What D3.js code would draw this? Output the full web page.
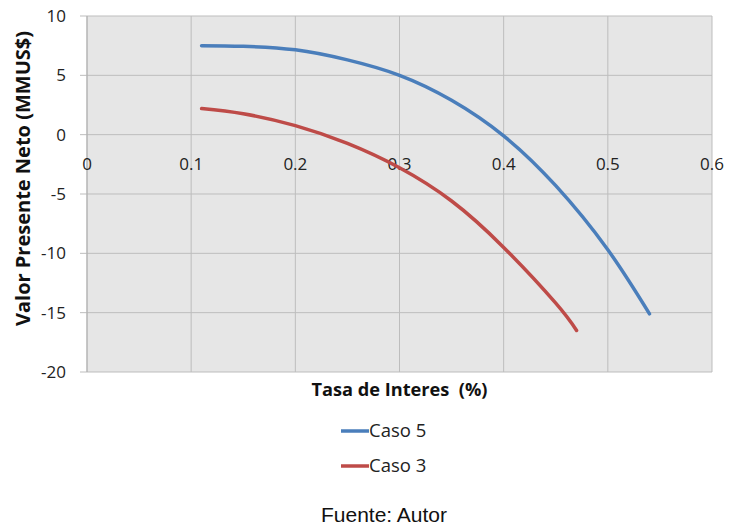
<!DOCTYPE html>
<html>
<head>
<meta charset="utf-8">
<script src="https://cdn.jsdelivr.net/npm/d3@7"></script>
<style>
  html, body { margin: 0; padding: 0; background: #ffffff; }
  svg { display: block; }
</style>
</head>
<body>
<svg id="chart" width="729" height="529"></svg>
<script>
// Interest rate (fraction) vs. net present value (MMUS$)
const caso5Rates = [0.11, 0.15, 0.20, 0.25, 0.30, 0.35, 0.40, 0.45, 0.50, 0.54];
const caso5Values = [7.5, 7.45, 7.15, 6.3, 5.0, 2.9, -0.1, -4.3, -9.7, -15.1];

const caso3Rates = [0.11, 0.15, 0.20, 0.25, 0.30, 0.35, 0.40, 0.45, 0.47];
const caso3Values = [2.2, 1.76, 0.76, -0.74, -2.79, -5.59, -9.5, -14.2, -16.5];

const xTicks = [0, 0.1, 0.2, 0.3, 0.4, 0.5, 0.6];
const yTicks = [10, 5, 0, -5, -10, -15, -20];

const seriesNames = ["Caso 5", "Caso 3"];
const seriesColors = ["#4a7ebb", "#be4b48"];

const svg = d3.select("#chart");
const plot = { left: 87, right: 712, top: 16, bottom: 372 };

const x = d3.scaleLinear().domain([0, 0.6]).range([plot.left, plot.right]);
const y = d3.scaleLinear().domain([-20, 10]).range([plot.bottom, plot.top]);

const tickFont = "'Open Sans', 'Liberation Sans', sans-serif";

// plot background
svg.append("rect")
  .attr("x", plot.left).attr("y", plot.top)
  .attr("width", plot.right - plot.left).attr("height", plot.bottom - plot.top)
  .attr("fill", "#e6e6e6");

// vertical gridlines
svg.append("g").selectAll("line").data(xTicks).join("line")
  .attr("x1", d => x(d)).attr("x2", d => x(d))
  .attr("y1", plot.top).attr("y2", plot.bottom)
  .attr("stroke", "#bdbdbd").attr("stroke-width", 1);

// horizontal gridlines with outside tick marks
svg.append("g").selectAll("line").data(yTicks).join("line")
  .attr("x1", plot.left - 7).attr("x2", plot.right)
  .attr("y1", d => y(d)).attr("y2", d => y(d))
  .attr("stroke", "#bdbdbd").attr("stroke-width", 1);

// y axis line
svg.append("line")
  .attr("x1", plot.left).attr("x2", plot.left)
  .attr("y1", plot.top).attr("y2", plot.bottom)
  .attr("stroke", "#b0b0b0").attr("stroke-width", 1);

// y tick labels
svg.append("g").selectAll("text").data(yTicks).join("text")
  .attr("x", 66).attr("y", d => y(d))
  .attr("dy", "0.35em")
  .attr("text-anchor", "end")
  .attr("font-family", tickFont).attr("font-size", 17)
  .attr("fill", "#222")
  .text(d => d);

// x tick labels sit just below the zero line
svg.append("g").selectAll("text").data(xTicks).join("text")
  .attr("x", d => x(d)).attr("y", y(0) + 35)
  .attr("text-anchor", "middle")
  .attr("font-family", tickFont).attr("font-size", 17)
  .attr("fill", "#222")
  .text(d => d === 0 ? "0" : d3.format(".1f")(d));

// series lines
const line = d3.line()
  .x(d => x(d[0])).y(d => y(d[1]))
  .curve(d3.curveNatural);

const series = [
  d3.zip(caso5Rates, caso5Values),
  d3.zip(caso3Rates, caso3Values)
];

svg.append("g").selectAll("path").data(series).join("path")
  .attr("d", line)
  .attr("fill", "none")
  .attr("stroke", (d, i) => seriesColors[i])
  .attr("stroke-width", 3.5)
  .attr("stroke-linecap", "round");

// axis titles
svg.append("text")
  .attr("x", (plot.left + plot.right) / 2).attr("y", 396)
  .attr("text-anchor", "middle")
  .attr("font-family", tickFont).attr("font-size", 18.2).attr("font-weight", "bold")
  .attr("fill", "#111")
  .style("white-space", "pre")
  .text("Tasa de Interes  (%)");

svg.append("text")
  .attr("transform", "translate(30, 178.5) rotate(-90)")
  .attr("text-anchor", "middle")
  .attr("font-family", tickFont).attr("font-size", 20).attr("font-weight", "bold")
  .attr("fill", "#111")
  .text("Valor Presente Neto (MMUS$)");

// legend
const legend = svg.append("g");
seriesNames.forEach((name, i) => {
  const ly = 431 + i * 35;
  legend.append("line")
    .attr("x1", 341).attr("x2", 369)
    .attr("y1", ly).attr("y2", ly)
    .attr("stroke", seriesColors[i]).attr("stroke-width", 3.5);
  legend.append("text")
    .attr("x", 369).attr("y", ly)
    .attr("dy", "0.35em")
    .attr("font-family", tickFont).attr("font-size", 18.5)
    .attr("fill", "#222")
    .text(name);
});

// source note
svg.append("text")
  .attr("x", 384).attr("y", 522)
  .attr("text-anchor", "middle")
  .attr("font-family", "'Liberation Sans', Arial, sans-serif").attr("font-size", 21)
  .attr("fill", "#111")
  .text("Fuente: Autor");
</script>
</body>
</html>
